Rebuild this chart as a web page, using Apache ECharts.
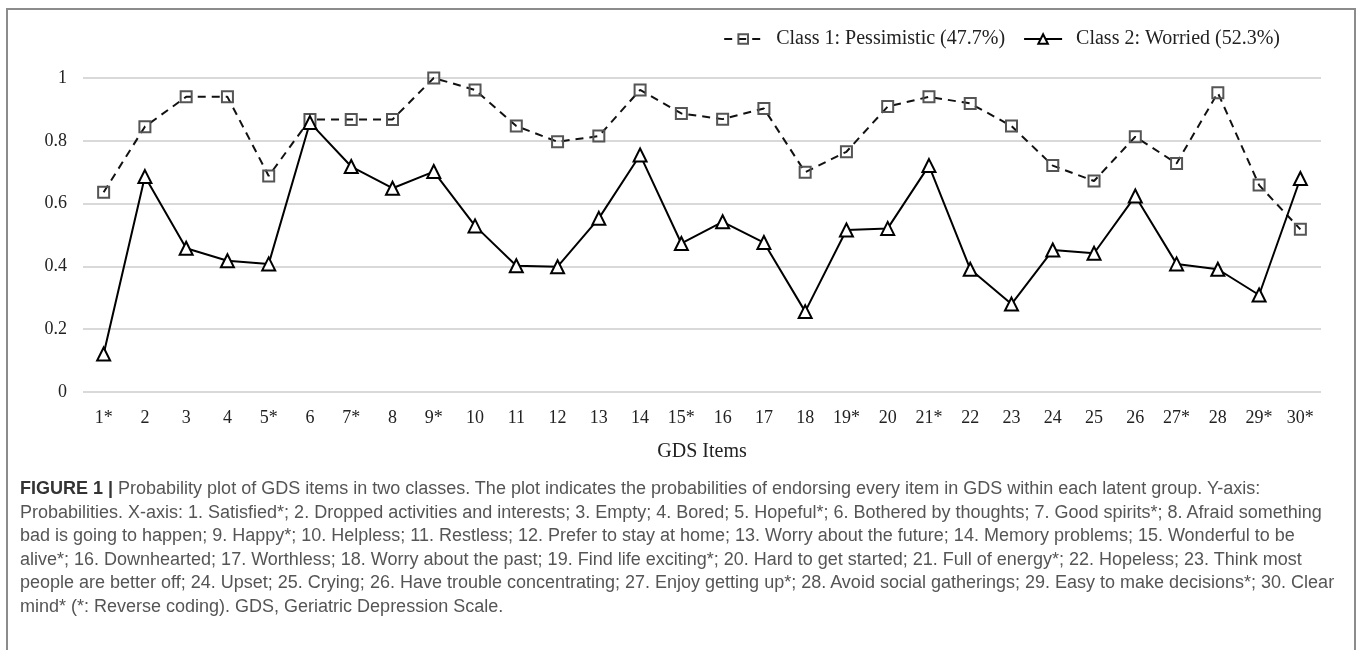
<!DOCTYPE html>
<html lang="en">
<head>
	<meta charset="UTF-8">
	<title>GDS items probability plot</title>
	<style>
		body { margin: 0; background: #fff; }
		#frame { position: absolute; left: 6px; top: 8px; width: 1346px; height: 660px; border: 2px solid #8c8c8c; }
		#chart { position: absolute; left: 0; top: 0; width: 1357px; height: 650px; }
		#caption { position: absolute; left: 20px; top: 477px; font-family: 'Liberation Sans', Arial, sans-serif; font-size: 18px; line-height: 23.5px; color: #555; white-space: nowrap; }
		#caption b { color: #333; }
	</style>
</head>
<body>
<div id="frame"></div>
<div id="chart"></div>
<div id="caption"><b>FIGURE 1 |</b> Probability plot of GDS items in two classes. The plot indicates the probabilities of endorsing every item in GDS within each latent group. Y-axis:<br>Probabilities. X-axis: 1. Satisfied*; 2. Dropped activities and interests; 3. Empty; 4. Bored; 5. Hopeful*; 6. Bothered by thoughts; 7. Good spirits*; 8. Afraid something<br>bad is going to happen; 9. Happy*; 10. Helpless; 11. Restless; 12. Prefer to stay at home; 13. Worry about the future; 14. Memory problems; 15. Wonderful to be<br>alive*; 16. Downhearted; 17. Worthless; 18. Worry about the past; 19. Find life exciting*; 20. Hard to get started; 21. Full of energy*; 22. Hopeless; 23. Think most<br>people are better off; 24. Upset; 25. Crying; 26. Have trouble concentrating; 27. Enjoy getting up*; 28. Avoid social gatherings; 29. Easy to make decisions*; 30. Clear<br>mind* (*: Reverse coding). GDS, Geriatric Depression Scale.</div>
<script src="https://cdn.jsdelivr.net/npm/echarts@6/dist/echarts.min.js"></script>
<script>
// 数据
var items = ['1*','2','3','4','5*','6','7*','8','9*','10','11','12','13','14','15*','16','17','18','19*','20','21*','22','23','24','25','26','27*','28','29*','30*'];
var pessimistic = [0.636,0.845,0.940,0.940,0.688,0.868,0.868,0.868,1.000,0.962,0.847,0.797,0.815,0.962,0.887,0.869,0.903,0.700,0.765,0.909,0.940,0.919,0.847,0.721,0.672,0.813,0.728,0.953,0.659,0.518];
var worried = [0.121,0.686,0.458,0.418,0.408,0.858,0.718,0.649,0.702,0.529,0.402,0.399,0.553,0.755,0.473,0.542,0.476,0.256,0.516,0.521,0.721,0.391,0.280,0.452,0.442,0.624,0.408,0.391,0.309,0.680];
var yTicks = {min: 0, max: 1, interval: 0.2};

var serif = "'Liberation Serif', 'Times New Roman', serif";
var myChart = echarts.init(document.getElementById('chart'));

var option = {
	animation: false,
	legend: {
		right: 72,
		top: 24,
		itemWidth: 38,
		itemHeight: 12,
		itemGap: 18,
		textStyle: { fontFamily: serif, fontSize: 20, color: '#222', padding: [0, 0, 0, 9] },
		data: ['Class 1: Pessimistic (47.7%)', 'Class 2: Worried (52.3%)']
	},
	grid: { left: 83, right: 36, top: 78, bottom: 258 },
	xAxis: {
		type: 'category',
		data: items,
		boundaryGap: true,
		name: 'GDS Items',
		nameLocation: 'middle',
		nameGap: 50,
		nameTextStyle: { fontFamily: serif, fontSize: 20, color: '#222' },
		axisLine: { show: false },
		axisTick: { show: false },
		axisLabel: { fontFamily: serif, fontSize: 18, color: '#222', margin: 17, interval: 0 }
	},
	yAxis: {
		type: 'value',
		min: yTicks.min,
		max: yTicks.max,
		interval: yTicks.interval,
		axisLine: { show: false },
		axisTick: { show: false },
		axisLabel: { fontFamily: serif, fontSize: 18, color: '#222', margin: 16 },
		splitLine: { lineStyle: { color: '#d9d9d9', width: 2 } }
	},
	series: [{
		name: 'Class 1: Pessimistic (47.7%)',
		type: 'line',
		data: pessimistic,
		symbol: 'rect',
		symbolSize: 11,
		lineStyle: { color: '#111', width: 2, type: [8, 6] },
		itemStyle: { color: 'rgba(255,255,255,0)', borderColor: '#555', borderWidth: 2 }
	}, {
		name: 'Class 2: Worried (52.3%)',
		type: 'line',
		data: worried,
		symbol: 'triangle',
		symbolSize: 13,
		lineStyle: { color: '#000', width: 2 },
		itemStyle: { color: '#fff', borderColor: '#000', borderWidth: 2 }
	}]
};
myChart.setOption(option);
</script>
</body>
</html>
